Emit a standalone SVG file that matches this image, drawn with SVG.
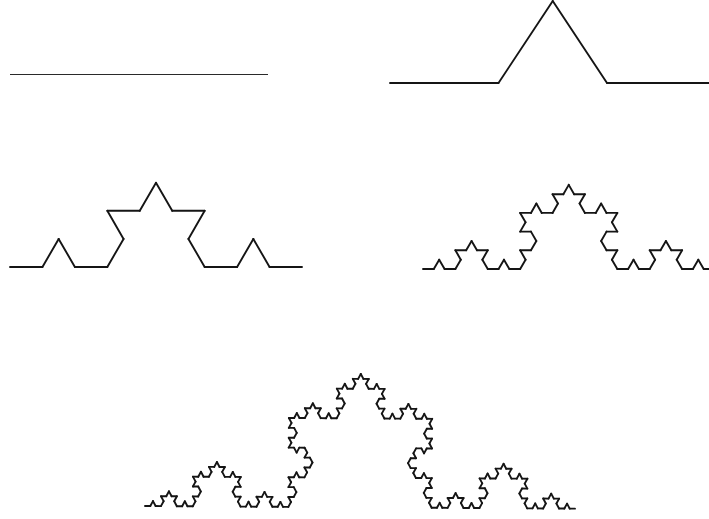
<svg xmlns="http://www.w3.org/2000/svg" xmlns:xlink="http://www.w3.org/1999/xlink" width="709" height="519" viewBox="0 0 709 519">
<style>
.seg{fill:none;stroke:#151515;stroke-width:1.9;stroke-linecap:round;stroke-linejoin:round;vector-effect:non-scaling-stroke}
</style>
<defs>
<path id="k0" class="seg" d="M0,0 L1,0"/>
<g id="k1">
<use href="#k0" transform="scale(0.3333333)"/>
<use href="#k0" transform="translate(0.3333333,0) rotate(-60) scale(0.3333333)"/>
<use href="#k0" transform="translate(0.5,-0.2886751) rotate(60) scale(0.3333333)"/>
<use href="#k0" transform="translate(0.6666667,0) scale(0.3333333)"/>
</g>
<g id="k2">
<use href="#k1" transform="scale(0.3333333)"/>
<use href="#k1" transform="translate(0.3333333,0) rotate(-60) scale(0.3333333)"/>
<use href="#k1" transform="translate(0.5,-0.2886751) rotate(60) scale(0.3333333)"/>
<use href="#k1" transform="translate(0.6666667,0) scale(0.3333333)"/>
</g>
<g id="k3">
<use href="#k2" transform="scale(0.3333333)"/>
<use href="#k2" transform="translate(0.3333333,0) rotate(-60) scale(0.3333333)"/>
<use href="#k2" transform="translate(0.5,-0.2886751) rotate(60) scale(0.3333333)"/>
<use href="#k2" transform="translate(0.6666667,0) scale(0.3333333)"/>
</g>
<g id="k4">
<use href="#k3" transform="scale(0.3333333)"/>
<use href="#k3" transform="translate(0.3333333,0) rotate(-60) scale(0.3333333)"/>
<use href="#k3" transform="translate(0.5,-0.2886751) rotate(60) scale(0.3333333)"/>
<use href="#k3" transform="translate(0.6666667,0) scale(0.3333333)"/>
</g>
</defs>
<rect width="709" height="519" fill="#ffffff"/>
<g id="level0">
<line x1="10" y1="74.5" x2="268" y2="74.5" stroke="#2a2a2a" stroke-width="1.2"/>
</g>
<g id="level1">
<use href="#k1" transform="translate(390,83) scale(325.5,284)"/>
</g>
<g id="level2">
<use href="#k2" transform="translate(10,267) scale(292)"/>
</g>
<g id="level3">
<use href="#k3" transform="translate(423,269) scale(291.5)"/>
</g>
<g id="level4">
<use href="#k4" transform="translate(145,506) rotate(0.35) scale(430,462)"/>
</g>
</svg>
